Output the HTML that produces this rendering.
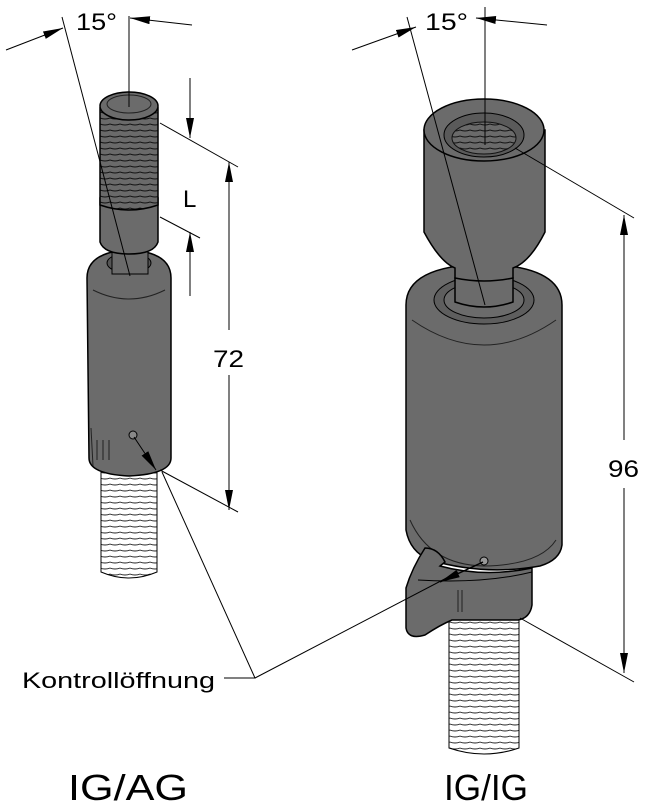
<!DOCTYPE html>
<html><head><meta charset="utf-8"><style>
html,body{margin:0;padding:0;background:#fff}
svg{display:block}
text{font-family:"Liberation Sans",Arial,sans-serif;fill:#000}
</style></head><body>
<svg width="648" height="804" viewBox="0 0 648 804" xmlns="http://www.w3.org/2000/svg">
<defs>
<marker id="a" viewBox="0 0 20 8" refX="20" refY="4" markerWidth="20" markerHeight="8" orient="auto" markerUnits="userSpaceOnUse"><path d="M0,0 L20,4 L0,8 z" fill="#000"/></marker>
<pattern id="thr" width="10" height="6" patternUnits="userSpaceOnUse"><rect width="10" height="6" fill="#fff"/><path d="M0,4 Q5,6 10,4" stroke="#222" stroke-width="0.9" fill="none"/></pattern>
<pattern id="thrd" width="10" height="6" patternUnits="userSpaceOnUse"><rect width="10" height="6" fill="#6a6a6a"/><path d="M0,4 Q5,6 10,4" stroke="#111" stroke-width="1" fill="none"/></pattern>
</defs>

<!-- LEFT PART -->
<path d="M101,470 L101,572 Q129,584 157,572 L157,470 Z" fill="url(#thr)" stroke="#000" stroke-width="1"/>
<path d="M87,278 Q87,252 129,250 Q171,252 171,278 L171,458 Q171,474 129,476 Q89,474 89,458 Z" fill="#6b6b6b" stroke="#000" stroke-width="1.5"/>
<path d="M93,290 Q129,308 165,290" fill="none" stroke="#222"/>
<ellipse cx="129" cy="263" rx="22" ry="10" fill="#555" stroke="#000"/>
<rect x="112" y="252" width="36" height="22" fill="#6b6b6b" stroke="#000"/>
<path d="M91,428 L93,466 M97,440 L97,460 M103,440 L103,460 M109,440 L109,460" stroke="#222"/>
<circle cx="133" cy="435" r="4" fill="#888" stroke="#000"/>
<path d="M100,198 L100,242 Q104,254 129,254 Q154,254 158,242 L158,198 Z" fill="#6b6b6b" stroke="#000" stroke-width="1.5"/>
<path d="M100,108 L100,205 Q129,215 158,205 L158,108 Z" fill="url(#thrd)" stroke="#000" stroke-width="1.5"/>
<ellipse cx="129" cy="106" rx="29" ry="14" fill="#6b6b6b" stroke="#000" stroke-width="1.5"/>
<ellipse cx="129" cy="104" rx="22" ry="9" fill="#6b6b6b" stroke="#222"/>

<text x="76" y="30" font-size="24" textLength="41" lengthAdjust="spacingAndGlyphs">15°</text>
<line x1="6" y1="50" x2="63" y2="28" stroke="#000" marker-end="url(#a)"/>
<line x1="62" y1="17" x2="130" y2="276" stroke="#000"/>
<line x1="129" y1="16" x2="129" y2="107" stroke="#000"/>
<line x1="192" y1="25" x2="130" y2="18" stroke="#000" marker-end="url(#a)"/>
<line x1="160" y1="123" x2="238" y2="167" stroke="#000"/>
<line x1="160" y1="217" x2="200" y2="238" stroke="#000"/>
<line x1="160" y1="470" x2="238" y2="512" stroke="#000"/>
<line x1="190" y1="78" x2="190" y2="138" stroke="#000" marker-end="url(#a)"/>
<line x1="190" y1="296" x2="190" y2="232" stroke="#000" marker-end="url(#a)"/>
<text x="183" y="207" font-size="24">L</text>
<line x1="229" y1="330" x2="229" y2="162" stroke="#000" marker-end="url(#a)"/>
<line x1="229" y1="375" x2="229" y2="510" stroke="#000" marker-end="url(#a)"/>
<text x="213" y="367" font-size="24" textLength="31" lengthAdjust="spacingAndGlyphs">72</text>
<line x1="134" y1="437" x2="156" y2="470" stroke="#000" marker-end="url(#a)"/>

<!-- RIGHT PART -->
<path d="M449,620 L449,748 Q484,760 519,748 L519,620 Z" fill="url(#thr)" stroke="#000" stroke-width="1"/>
<path d="M406,305 Q406,266 484,264 Q562,266 562,305 L562,545 Q560,560 540,566 Q484,576 430,560 Q410,552 406,530 Z" fill="#6b6b6b" stroke="#000" stroke-width="1.5"/>
<path d="M412,320 Q484,370 556,320" fill="none" stroke="#222"/>
<path d="M410,520 Q430,565 484,566 Q540,565 556,540" fill="none" stroke="#222"/>
<ellipse cx="484" cy="300" rx="50" ry="24" fill="#5e5e5e" stroke="#000"/>
<ellipse cx="484" cy="300" rx="40" ry="18" fill="#6b6b6b" stroke="#000"/>
<path d="M440,566 Q484,578 532,568 L532,605 Q530,618 518,620 L452,620 Q440,625 425,635 Q408,640 406,628 L406,588 Q412,568 425,548 Q438,548 445,562 Z" fill="#6b6b6b" stroke="#000" stroke-width="1.5"/>
<path d="M418,580 Q484,584 532,572" fill="none" stroke="#000"/>
<path d="M458,590 L458,612 M462,590 L462,612" stroke="#222"/>
<circle cx="484" cy="561" r="4" fill="#999" stroke="#000"/>
<path d="M455,278 L455,302 Q484,312 513,302 L513,278 Z" fill="#6b6b6b" stroke="#000" stroke-width="1.5"/>
<path d="M424,130 L424,232 Q440,262 455,268 L455,278 Q484,284 513,278 L513,268 Q530,262 545,232 L545,130 Z" fill="#6b6b6b" stroke="#000" stroke-width="1.5"/>
<ellipse cx="484" cy="130" rx="60" ry="31" fill="#6b6b6b" stroke="#000" stroke-width="1.5"/>
<ellipse cx="484" cy="135" rx="40" ry="22" fill="#5a5a5a" stroke="#000"/>
<ellipse cx="484" cy="138" rx="32" ry="16" fill="url(#thrd)" stroke="#111"/>

<text x="425" y="30" font-size="24" textLength="43" lengthAdjust="spacingAndGlyphs">15°</text>
<line x1="352" y1="50" x2="416" y2="27" stroke="#000" marker-end="url(#a)"/>
<line x1="407" y1="17" x2="485" y2="305" stroke="#000"/>
<line x1="485" y1="7" x2="485" y2="145" stroke="#000"/>
<line x1="547" y1="25" x2="476" y2="18" stroke="#000" marker-end="url(#a)"/>
<line x1="515" y1="148" x2="634" y2="218" stroke="#000"/>
<line x1="520" y1="618" x2="634" y2="682" stroke="#000"/>
<line x1="624" y1="440" x2="624" y2="215" stroke="#000" marker-end="url(#a)"/>
<line x1="624" y1="488" x2="624" y2="673" stroke="#000" marker-end="url(#a)"/>
<text x="608" y="477" font-size="24" textLength="31" lengthAdjust="spacingAndGlyphs">96</text>
<line x1="483" y1="562" x2="440" y2="582" stroke="#000" stroke-width="1.5" marker-end="url(#a)"/>

<text x="22" y="688" font-size="22" textLength="193" lengthAdjust="spacingAndGlyphs">Kontrollöffnung</text>
<polyline points="224,678 255,678 162,472" fill="none" stroke="#000"/>
<line x1="255" y1="678" x2="458" y2="572" stroke="#000"/>

<text x="68" y="800" font-size="36" textLength="120" lengthAdjust="spacingAndGlyphs">IG/AG</text>
<text x="444" y="800" font-size="36" textLength="84" lengthAdjust="spacingAndGlyphs">IG/IG</text>
</svg>
</body></html>
